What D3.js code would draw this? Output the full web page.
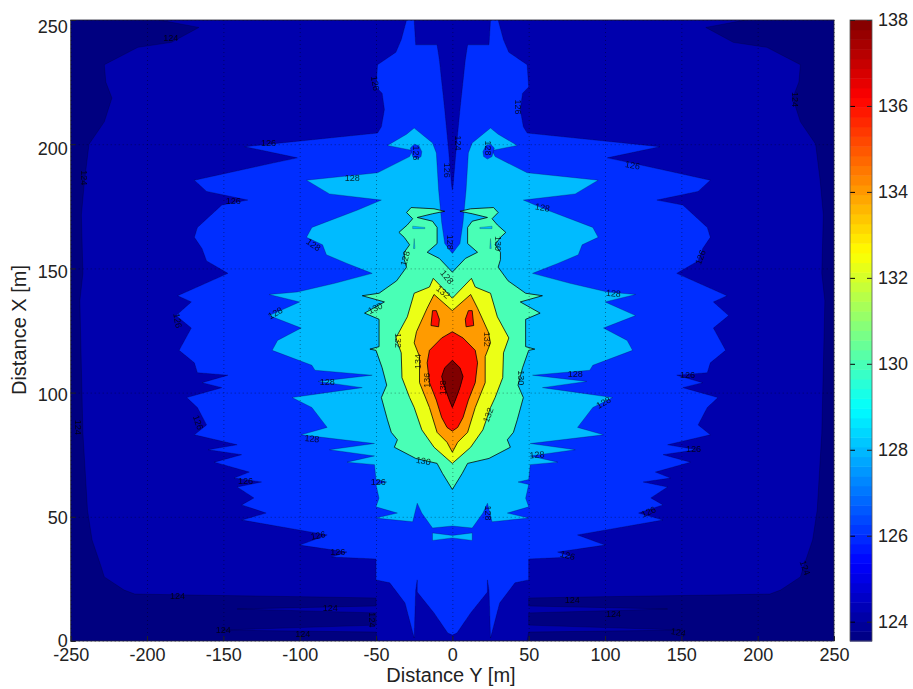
<!DOCTYPE html>
<html>
<head>
<meta charset="utf-8">
<script src="https://cdn.jsdelivr.net/npm/d3@7"></script>
<style>
  body { margin: 0; background: #fff; }
  text { font-family: "Liberation Sans", Arial, sans-serif; }
</style>
</head>
<body>
<div id="container"></div>
<script>
// all outlines are [distance Y, distance X] in metres, right half only, the left is mirrored
const outline124 = [[0,0],[49,0],[50,3.6],[151,4.4],[50,6.4],[50,11.3],[141,12.9],[50,14.1],[50,17.3],[86,17.7],[171,18.5],[208,18.9],[215,20.5],[228,25.8],[230,29.8],[236,40.7],[239,52.7],[242,83.7],[243,110],[244,137],[242,148],[243,171.5],[241,185],[238,200],[228,209],[223,218.6],[227,225],[228,232],[206,239],[184,241],[166,247],[192,250],[0,250]];
const outline126 = [[0,2.4],[3,3.2],[12,11.3],[23,19.7],[23,24.6],[24,20.5],[25,1.2],[31,15.3],[41,23.4],[50,24.6],[50,33],[79,33.8],[69,35.8],[100,38.6],[82,42.7],[138,48.7],[122,51.5],[138,54.8],[130,57.6],[141,62],[125,64],[143,65.6],[133,68],[156,72],[138,75],[160,77],[141,79],[169,83],[161,87],[167,94],[174,98],[151,102],[164,104],[147,107],[167,108],[169,112],[179,117],[171,126],[181,131],[171,136.5],[180,139],[147,148],[161,153],[164,158],[169,162.5],[167,166.5],[151,175.5],[134,177.5],[161,181],[169,185.5],[117,192.5],[101.5,194.5],[136,199],[49,204.5],[46.5,207],[44.5,214],[46,220.5],[50,223],[49,232],[37,237],[33.5,242],[30,250],[25,250],[24,240],[10,240],[8.5,234],[5,214],[2.5,198],[0.5,183.5],[0,181.5]];
const outline128 = [[0,46.3],[13,45.5],[20,51.5],[23,55.5],[26,48],[50,49.5],[36,51.5],[50,54],[48,57.5],[50,63],[43,64],[50,65],[51,71],[69,72],[51,74.5],[80.5,77],[51,79.5],[99,83],[82,86],[92,94],[105,98],[59,102],[88,104.5],[52.5,107],[90,109],[92,111],[118,117],[114.5,121],[99,126],[120,131],[100,136.5],[120,139.5],[101.5,140.5],[77,144],[52.5,148],[69,152],[82.5,155.5],[85,159.5],[95.5,162.5],[92,166.5],[62,173.5],[46.5,177.5],[80.5,180],[95.5,185.5],[49,188.5],[28,195],[26,197.5],[42.5,199.5],[30,204],[25,206.5],[13,200.5],[10.5,196.5],[9,181.5],[7,168.5],[5,160],[0,156]];
const sliver128 = [[0,42.5],[13,43.5],[13,40.5],[0,41.5]];
const dash128 = [[18,166.5],[26,167],[26,166],[18,166]];
const tick128 = [[25,162],[25.5,158],[24.5,158]];
const hole126 = [[20,197],[22,199.5],[25,200],[27.5,198.5],[26,195],[23,194],[20.5,195]];
const outline130 = [[0,61],[6.5,67.5],[10,71.5],[24,73.5],[38,78],[36,81],[40,84],[42.5,89],[46.5,98],[43,103],[46,110],[50,117],[54,117.5],[48,118.5],[48,129.5],[57.5,132],[44.5,136.5],[59,139],[48,140],[36.5,145],[30,150.5],[31.5,153.5],[31.5,156.5],[28,159.5],[31.5,162.5],[35,164.5],[29.5,167.5],[26,170],[30,172.5],[27,174.5],[12,174],[5,173],[13,172],[23,170.5],[13,169],[10,166.5],[10,160],[16.5,156.5],[8.5,154],[0,148.5]];
const outline132 = [[0,71.5],[12,78],[20,85],[25,94],[28,98],[33,106],[33.5,116],[37,122],[29.5,130.5],[25,140],[15,142.5],[12.5,146],[0,138]];
const outline134 = [[0,76],[3.5,80],[10,84],[15,94],[21.5,104],[21.5,114.5],[25,120],[23.5,124.5],[16.5,134],[12,139.5],[0,133]];
const outline136 = [[0,84.5],[3.5,86],[7,90],[10.5,97],[15,104],[16.5,112],[15,117],[7,122],[0,124.5]];
const island136 = [[10.5,133],[13,133],[14,127],[9,126.5],[8.5,129.5]];
const outline138 = [[0,94],[2,97],[5,102],[7,106.5],[5,110],[0,113]];

// contour labels: [level, distance Y, distance X]
const contourLabels = [[126,-120.5,200.5],[128,-65.5,186.5],[126,-143.5,177],[128,-91,159.5],[130,-50.5,134],[128,-116,132],[126,-180,129],[128,-82,104.5],[128,-92,81.5],[126,-135.5,64.5],[126,-166.5,88],[126,-88,42.5],[126,-75,36],[124,-180,18],[124,-80,13.5],[124,-98,3],[126,-48.5,64],[124,-52.5,8.5],[126,118,191.5],[128,59,174.5],[128,105.5,140],[126,162.5,154.5],[128,23.5,198.5],[128,80.5,107.5],[128,99,96],[128,55.5,75],[126,154,107],[126,158,77.5],[126,128.5,52],[126,75.5,34.5],[124,78.5,16.5],[124,105.5,11],[124,148,3.5],[128,23.5,51.5],[130,45,106],[126,43,215],[126,-50.5,224.5],[126,-3.5,189.5],[124,3.5,200.5],[128,-1.5,160.5],[128,-31,154],[128,-3.5,146.5],[132,-35.5,121],[132,-6,140.5],[132,23,121.5],[134,-22.5,112.5],[136,-16.5,105],[132,23.5,91],[130,-19,72.5],[138,-6.5,102],[124,224.5,218],[124,-184.5,243],[124,-241.5,186.5],[124,-245,86],[124,231,29.5],[124,-150,4.5],[130,30,160],[126,-24,196.5]];
const labelTilt = [0,0,0,35,-25,-30,80,0,5,0,70,-10,0,0,0,0,0,90,10,10,5,-70,90,0,-30,-5,0,0,-25,15,0,0,10,90,90,90,80,90,90,90,-75,50,90,40,90,-90,-90,-70,10,-90,90,0,90,90,70,0,90,90];

const xTicks = [-250,-200,-150,-100,-50,0,50,100,150,200,250];
const yTicks = [0,50,100,150,200,250];
const barTicks = [124,126,128,130,132,134,136,138];
const barMin = 123.55;
const barMax = 138;
const barSteps = 64;
const xLabel = "Distance Y [m]";
const yLabel = "Distance X [m]";

const width = 913;
const height = 689;
const plot = { left: 70.7, right: 834, top: 20, bottom: 641 };
const bar = { left: 850, right: 872 };

// matlab jet
function jet(t) {
  const clamp = v => Math.max(0, Math.min(1, v));
  const r = clamp(Math.min(4 * t - 1.5, -4 * t + 4.5));
  const g = clamp(Math.min(4 * t - 0.5, -4 * t + 3.5));
  const b = clamp(Math.min(4 * t + 0.5, -4 * t + 2.5));
  return d3.rgb(r * 255, g * 255, b * 255).formatHex();
}
const levelColor = level => jet((level - barMin) / (barMax - barMin));

const xScale = d3.scaleLinear().domain([-250, 250]).range([plot.left, plot.right]);
const yScale = d3.scaleLinear().domain([0, 250]).range([plot.bottom, plot.top]);
const barScale = d3.scaleLinear().domain([barMin, barMax]).range([plot.bottom, plot.top]);

const ring = d3.line().x(d => xScale(d[0])).y(d => yScale(d[1]));
const mirror = pts => pts.map(d => [-d[0], d[1]]);
const wholeRing = half => half.concat(mirror(half).reverse());

// painted back to front, islands are drawn once per side
// tone is the colorbar value of the fill, a bit over the level for 124 and 132
const regions = [
  { level: 124, tone: 124.2, rings: [wholeRing(outline124)] },
  { level: 126, tone: 126, rings: [wholeRing(outline126)] },
  { level: 128, tone: 128, rings: [wholeRing(outline128), wholeRing(sliver128)] },
  { level: 126, tone: 126, rings: [hole126, mirror(hole126)] },
  { level: 130, tone: 130, rings: [wholeRing(outline130)] },
  { level: 128, tone: 128, rings: [dash128, mirror(dash128), tick128, mirror(tick128)] },
  { level: 132, tone: 132.3, rings: [wholeRing(outline132)] },
  { level: 134, tone: 134, rings: [wholeRing(outline134)] },
  { level: 136, tone: 136, rings: [wholeRing(outline136), island136, mirror(island136)] },
  { level: 138, tone: 138, rings: [wholeRing(outline138)] },
];

const svg = d3.select("#container").append("svg")
  .attr("width", width)
  .attr("height", height);

const defs = svg.append("defs");
defs.append("filter").attr("id", "soft")
  .attr("x", 0).attr("y", 0).attr("width", 1).attr("height", 1)
  .append("feGaussianBlur").attr("stdDeviation", 0.6);
defs.append("clipPath").attr("id", "plot-clip").append("rect")
  .attr("x", plot.left).attr("y", plot.top)
  .attr("width", plot.right - plot.left).attr("height", plot.bottom - plot.top);

const field = svg.append("g").attr("clip-path", "url(#plot-clip)")
  .append("g").attr("filter", "url(#soft)");

field.append("rect")
  .attr("x", plot.left).attr("y", plot.top)
  .attr("width", plot.right - plot.left).attr("height", plot.bottom - plot.top)
  .style("fill", levelColor(barMin));

regions.forEach(function (region) {
  field.append("g").selectAll("path")
    .data(region.rings)
    .enter().append("path")
    .attr("d", d => ring(d) + "Z")
    .style("fill", levelColor(region.tone))
    .style("stroke", "#000")
    .style("stroke-width", region.level >= 130 ? 0.9 : 0.7)
    .style("stroke-opacity", region.level >= 130 ? 0.85 : 0.3);
});

field.append("g").selectAll("text")
  .data(contourLabels)
  .enter().append("text")
  .attr("transform", (d, i) => `translate(${xScale(d[1])} ${yScale(d[2])}) rotate(${labelTilt[i]})`)
  .attr("text-anchor", "middle")
  .attr("dy", "0.35em")
  .style("font-size", "9px")
  .style("fill", "#000")
  .style("fill-opacity", 0.8)
  .text(d => d[0]);

// dotted grid
svg.append("g")
  .attr("transform", `translate(0 ${plot.bottom})`)
  .call(d3.axisBottom(xScale).tickValues(xTicks).tickSize(plot.top - plot.bottom).tickFormat(""))
  .call(g => g.select(".domain").remove())
  .selectAll("line")
  .style("stroke", "#000").style("stroke-opacity", 0.4).style("stroke-dasharray", "1,3");
svg.append("g")
  .attr("transform", `translate(${plot.left} 0)`)
  .call(d3.axisLeft(yScale).tickValues(yTicks).tickSize(plot.left - plot.right).tickFormat(""))
  .call(g => g.select(".domain").remove())
  .selectAll("line")
  .style("stroke", "#000").style("stroke-opacity", 0.4).style("stroke-dasharray", "1,3");

// axes
const xAxis = svg.append("g")
  .attr("transform", `translate(0 ${plot.bottom})`)
  .call(d3.axisBottom(xScale).tickValues(xTicks).tickSize(-5).tickPadding(7).tickFormat(String));
const yAxis = svg.append("g")
  .attr("transform", `translate(${plot.left} 0)`)
  .call(d3.axisLeft(yScale).tickValues(yTicks).tickSize(-5).tickPadding(3).tickFormat(String));

svg.append("rect")
  .attr("x", plot.left).attr("y", plot.top)
  .attr("width", plot.right - plot.left).attr("height", plot.bottom - plot.top)
  .style("fill", "none").style("stroke", "#223").style("stroke-width", 0.8);

// colorbar
const barColors = d3.range(barSteps);
svg.append("g").selectAll("rect")
  .data(barColors)
  .enter().append("rect")
  .attr("x", bar.left)
  .attr("width", bar.right - bar.left)
  .attr("y", d => barScale(barMin + (d + 1) * (barMax - barMin) / barSteps))
  .attr("height", (plot.bottom - plot.top) / barSteps + 0.5)
  .style("fill", d => jet((d + 0.5) / barSteps));
const barAxis = svg.append("g")
  .attr("transform", `translate(${bar.right} 0)`)
  .call(d3.axisRight(barScale).tickValues(barTicks).tickSize(-5).tickPadding(6).tickFormat(String));
svg.append("g")
  .attr("transform", `translate(${bar.left} 0)`)
  .call(d3.axisRight(barScale).tickValues(barTicks).tickSize(5).tickFormat(""))
  .call(g => g.select(".domain").remove());
svg.append("rect")
  .attr("x", bar.left).attr("y", plot.top)
  .attr("width", bar.right - bar.left).attr("height", plot.bottom - plot.top)
  .style("fill", "none").style("stroke", "#555").style("stroke-width", 0.8);

[xAxis, yAxis, barAxis].forEach(function (axis) {
  axis.select(".domain").remove();
  axis.selectAll("line").style("stroke", "#222");
  axis.selectAll("text").style("font-size", "18px").style("fill", "#222");
});
// the labels of the original drift down a few pixels towards the top of the axis
yAxis.selectAll("text").attr("dy", d => (0.28 + 0.39 * d / 250) + "em");

svg.append("text")
  .attr("x", 451).attr("y", 682)
  .attr("text-anchor", "middle")
  .style("font-size", "20px").style("fill", "#222")
  .text(xLabel);
svg.append("text")
  .attr("transform", "translate(26 330) rotate(-90)")
  .attr("text-anchor", "middle")
  .style("font-size", "20px").style("fill", "#222")
  .text(yLabel);
</script>
</body>
</html>
